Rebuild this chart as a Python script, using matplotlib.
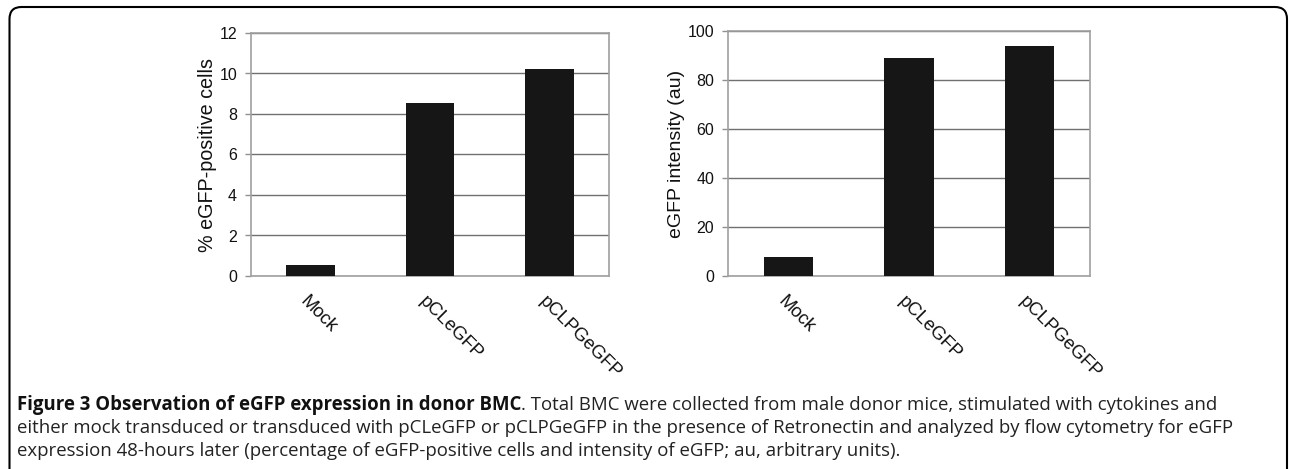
import matplotlib
matplotlib.use('Agg')
import matplotlib.pyplot as plt
from matplotlib.patches import FancyBboxPatch
from matplotlib.transforms import ScaledTranslation

categories = ['Mock', 'pCLeGFP', 'pCLPGeGFP']
pct_positive = [0.55, 8.55, 10.2]
intensity = [7.6, 89.0, 94.0]

left_ticks = [0, 2, 4, 6, 8, 10, 12]
right_ticks = [0, 20, 40, 60, 80, 100]

caption_bold = 'Figure 3 Observation of eGFP expression in donor BMC'
caption_lines = [
    '. Total BMC were collected from male donor mice, stimulated with cytokines and',
    'either mock transduced or transduced with pCLeGFP or pCLPGeGFP in the presence of Retronectin and analyzed by flow cytometry for eGFP',
    'expression 48-hours later (percentage of eGFP-positive cells and intensity of eGFP; au, arbitrary units).',
]

W, H, DPI = 1290, 469, 100
plt.rcParams['font.family'] = ['Liberation Sans', 'DejaVu Sans']

fig = plt.figure(figsize=(W / DPI, H / DPI), dpi=DPI)


def px_axes(x0, y0, x1, y1):
    # pixel box (top-left origin) -> figure fraction
    return fig.add_axes([x0 / W, 1 - y1 / H, (x1 - x0) / W, (y1 - y0) / H])


def bar_panel(ax, values, ticks, ylabel, ylabel_size):
    x = range(len(categories))
    ax.bar(x, values, width=0.41, color='#161616', zorder=3)
    ax.set_xlim(-0.5, len(categories) - 0.5)
    ax.set_ylim(ticks[0], ticks[-1])
    ax.set_yticks(ticks)
    ax.yaxis.grid(True, color='#707070', linewidth=1.0, zorder=1)
    for s in ax.spines.values():
        s.set_color('#a0a0a0')
        s.set_linewidth(1.2)
    ax.tick_params(axis='y', length=4, width=1, color='#909090', pad=6,
                   labelsize=11.5, labelcolor='#111111')
    ax.tick_params(axis='x', length=0, pad=12)
    ax.set_xticks(list(x))
    ax.set_xticklabels(categories, rotation=-45, ha='left', va='top',
                       rotation_mode='anchor', fontsize=13.3, color='#111111')
    shift = ScaledTranslation(-2 / DPI, 0, fig.dpi_scale_trans)
    for lab in ax.get_xticklabels():
        lab.set_transform(lab.get_transform() + shift)
    ax.set_ylabel(ylabel, fontsize=ylabel_size, labelpad=2, color='#111111')


ax1 = px_axes(251, 33, 609, 276)
bar_panel(ax1, pct_positive, left_ticks, '% eGFP-positive cells', 14.2)

ax2 = px_axes(728, 31, 1090, 276)
bar_panel(ax2, intensity, right_ticks, 'eGFP intensity (au)', 14)

# rounded frame, open at the bottom
frame = FancyBboxPatch((9.5 / DPI, -0.3), (1287 - 9.5) / DPI, (H - 7) / DPI + 0.3,
                       boxstyle='round,pad=0,rounding_size=0.12',
                       transform=fig.dpi_scale_trans, fill=False,
                       edgecolor='black', linewidth=1.5)
fig.patches.append(frame)

# caption: size chosen so the second line runs from x=17 to x=1233
cap_font = ['Open Sans', 'DejaVu Sans']
x0_px, x1_px = 17, 1233
renderer = fig.canvas.get_renderer()
probe = fig.text(0, 0, caption_lines[1], fontsize=10, family=cap_font)
probe_w = probe.get_window_extent(renderer=renderer).width
probe.remove()
cap_size = 10 * (x1_px - x0_px) / probe_w

baselines = [410, 433, 456]
t = fig.text(x0_px / W, 1 - baselines[0] / H, caption_bold, fontsize=cap_size,
             family=cap_font, weight='bold', va='baseline', color='#111111')
bb = t.get_window_extent(renderer=renderer)
fig.text(bb.x1 / W, 1 - baselines[0] / H, caption_lines[0], fontsize=cap_size,
         family=cap_font, va='baseline', color='#222222')
for line, yb in zip(caption_lines[1:], baselines[1:]):
    fig.text(x0_px / W, 1 - yb / H, line, fontsize=cap_size, family=cap_font,
             va='baseline', color='#222222')

fig.savefig('out.png', dpi=DPI)
